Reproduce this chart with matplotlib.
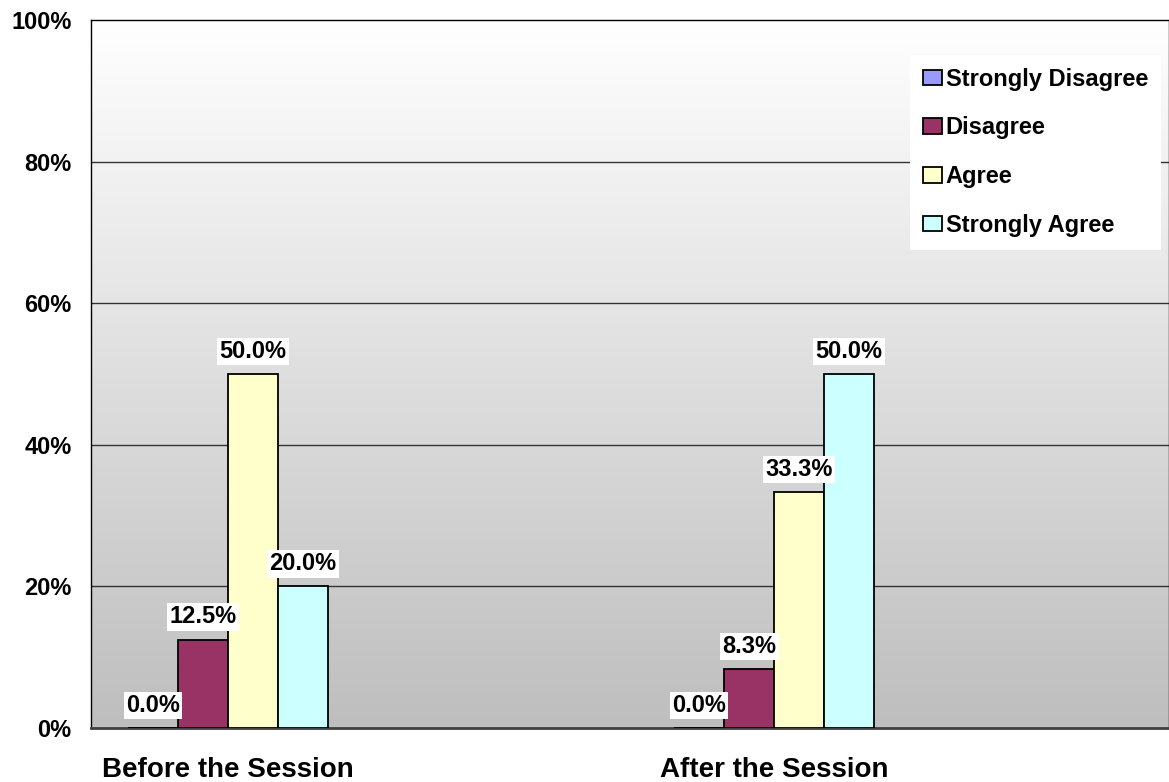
import numpy as np
import matplotlib
matplotlib.use("Agg")
import matplotlib.pyplot as plt

plt.rcParams['font.family'] = ['Liberation Sans', 'DejaVu Sans']

groups = ["Before the Session", "After the Session"]
series = ["Strongly Disagree", "Disagree", "Agree", "Strongly Agree"]
strongly_disagree = [0.0, 0.0]
disagree = [12.5, 8.3]
agree = [50.0, 33.3]
strongly_agree = [20.0, 50.0]
colors = ["#9999FF", "#993366", "#FFFFCC", "#CCFFFF"]
yticks = [0, 20, 40, 60, 80, 100]
ytick_labels = ["0%", "20%", "40%", "60%", "80%", "100%"]

W, H = 1169, 782
fig = plt.figure(figsize=(W / 100, H / 100), dpi=100)
ax = fig.add_axes([91 / W, 54 / H, 1078 / W, 708 / H])

x = np.arange(len(groups))
width = 0.0916
ax.set_xlim(-0.251, 1.723)
ax.set_ylim(0, 100)

# vertical gradient background: white at the top, grey at the bottom
grad = np.linspace(0, 1, 256).reshape(-1, 1)
cmap = matplotlib.colors.LinearSegmentedColormap.from_list("bg", ["#BEBEBE", "#FFFFFF"])
ax.imshow(grad, cmap=cmap, aspect="auto", extent=[-0.251, 1.723, 0, 100],
          zorder=0, origin="lower")

for yv in yticks[1:-1]:
    ax.axhline(yv, color="#333333", lw=1.0, zorder=1)

values = [strongly_disagree, disagree, agree, strongly_agree]
offsets = [-1.5, -0.5, 0.5, 1.5]
for vals, off, col, name in zip(values, offsets, colors, series):
    bars = ax.bar(x + off * width, vals, width, color=col, edgecolor="black",
                  linewidth=1.3, label=name, zorder=3)
    for rect, v in zip(bars, vals):
        ax.annotate(f"{v:.1f}%", (rect.get_x() + rect.get_width() / 2, v),
                    xytext=(0, 8), textcoords="offset points", ha="center",
                    va="bottom", fontsize=17, fontweight="bold", zorder=5,
                    bbox=dict(boxstyle="square,pad=0.1", fc="white", ec="none"))

ax.set_yticks(yticks)
ax.set_yticklabels(ytick_labels, fontsize=17, fontweight="bold")
ax.tick_params(axis="y", length=0, pad=14)
ax.set_xticks([])

for i, g in enumerate(groups):
    ax.text(x[i], -6.0, g, ha="center", va="center", fontsize=20,
            fontweight="bold", transform=ax.transData)

for s in ["left", "top", "right"]:
    ax.spines[s].set_color("black")
    ax.spines[s].set_linewidth(1.0)
ax.spines["bottom"].set_color("#404040")
ax.spines["bottom"].set_linewidth(2.0)

leg = ax.legend(loc="upper left", bbox_to_anchor=(0.76, 0.951), frameon=True,
                fancybox=False, prop=dict(size=17, weight="bold"),
                handlelength=0.8, handleheight=0.65, handletextpad=0.15,
                labelspacing=1.09, borderpad=0.55, borderaxespad=0)
leg.get_frame().set_facecolor("white")
leg.get_frame().set_edgecolor("none")
leg.get_frame().set_alpha(1)
leg.set_zorder(6)

fig.savefig("out.png", dpi=100)
